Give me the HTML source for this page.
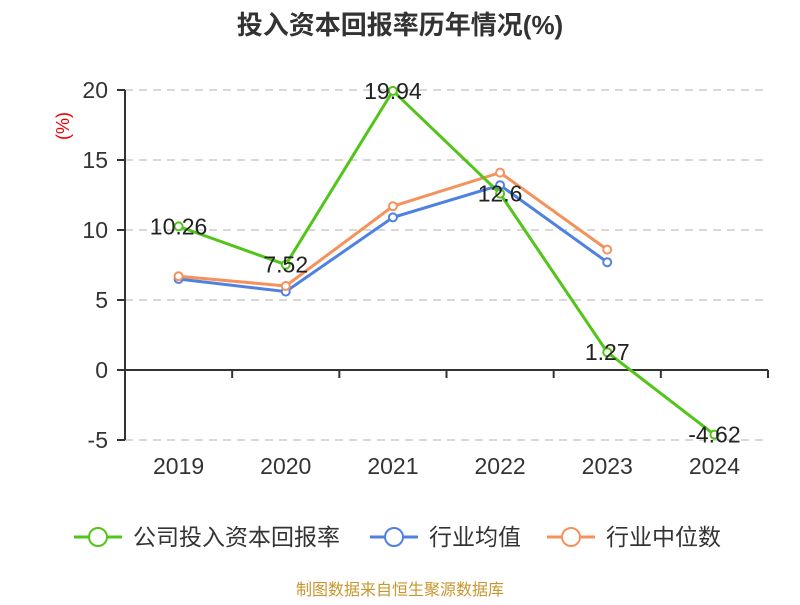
<!DOCTYPE html>
<html><head><meta charset="utf-8"><style>
body{margin:0;background:#fff;width:800px;height:600px;overflow:hidden}
svg text{font-family:"Liberation Sans","Noto Sans CJK SC",sans-serif}
</style></head><body>
<svg id="chart" width="800" height="600" xmlns="http://www.w3.org/2000/svg">
<text x="400" y="34" text-anchor="middle" font-size="26" font-weight="bold" fill="#333">投入资本回报率历年情况(%)</text>
<text transform="translate(69,126) rotate(-90)" text-anchor="middle" font-size="18" fill="#e00">(%)</text>
<g id="grid"></g><g id="axes"></g><g id="series"></g><g id="labels"></g>
<g font-size="23" fill="#333">
<g><line x1="74" y1="537" x2="122" y2="537" stroke="#52c41a" stroke-width="3"/><circle cx="98" cy="537" r="9" fill="#fff" stroke="#52c41a" stroke-width="2"/><text x="133" y="545">公司投入资本回报率</text></g>
<g><line x1="370" y1="537" x2="418" y2="537" stroke="#4f81e0" stroke-width="3"/><circle cx="394" cy="537" r="9" fill="#fff" stroke="#4f81e0" stroke-width="2"/><text x="429" y="545">行业均值</text></g>
<g><line x1="547" y1="537" x2="595" y2="537" stroke="#f5915a" stroke-width="3"/><circle cx="571" cy="537" r="9" fill="#fff" stroke="#f5915a" stroke-width="2"/><text x="606" y="545">行业中位数</text></g>
</g>
<text x="400" y="595" text-anchor="middle" font-size="16" fill="#c8962e">制图数据来自恒生聚源数据库</text>
</svg>
<script>
const categories=["2019","2020","2021","2022","2023","2024"];
const company=[10.26,7.52,19.94,12.6,1.27,-4.62];
const industryAvg=[6.5,5.6,10.9,13.2,7.7];
const industryMedian=[6.7,6.0,11.7,14.1,8.6];
const yTicks=[-5,0,5,10,15,20];
const NS="http://www.w3.org/2000/svg";
const x0=125,x1=768,bw=(x1-x0)/categories.length;
const xs=i=>x0+bw*(i+0.5);
const ys=v=>370-v*14;
function mk(tag,attrs,parent){const e=document.createElementNS(NS,tag);for(const k in attrs)e.setAttribute(k,attrs[k]);document.getElementById(parent).appendChild(e);return e;}
yTicks.forEach(t=>{
  if(t!==0){const g=mk('line',{x1:x0,x2:x1,y1:ys(t),y2:ys(t),stroke:'#ccc','stroke-dasharray':'8,6','stroke-width':1.5},'grid');
  
  }
  const tk=mk('line',{x1:117,x2:x0,y1:ys(t),y2:ys(t),stroke:'#333','stroke-width':2},'axes');
  
  
  const tl=mk('text',{x:108,y:ys(t)+8,'text-anchor':'end','font-size':23,fill:'#333'},'axes');
  tl.textContent=t;
  
  
});
const ya=mk('line',{x1:x0,x2:x0,y1:ys(20),y2:ys(-5),stroke:'#333','stroke-width':2},'axes');


const xa=mk('line',{x1:x0,x2:x1,y1:ys(0),y2:ys(0),stroke:'#333','stroke-width':2},'axes');


for(let i=0;i<=categories.length;i++){
  const t=mk('line',{x1:x0+bw*i,x2:x0+bw*i,y1:ys(0),y2:ys(0)+8,stroke:'#333','stroke-width':2},'axes');
  
  
}
categories.forEach((c,i)=>{
  const t=mk('text',{x:xs(i),y:474,'text-anchor':'middle','font-size':23,fill:'#333'},'axes');
  t.textContent=c;
  
  
});
function series(vals,color,name){
  const p=mk('polyline',{points:vals.map((v,i)=>xs(i)+','+ys(v)).join(' '),fill:'none',stroke:color,'stroke-width':3},'series');
  
  
  vals.forEach((v,i)=>{
    const c=mk('circle',{cx:xs(i),cy:ys(v),r:4,fill:'#fff',stroke:color,'stroke-width':2},'series');
    
    
  });
}
series(industryAvg,'#4f81e0','industry-average');
series(industryMedian,'#f5915a','industry-median');
series(company,'#52c41a','company');
company.forEach((v,i)=>{
  const t=mk('text',{x:xs(i),y:ys(v)+8,'text-anchor':'middle','font-size':23,fill:'#222'},'labels');
  t.textContent=v;
  
  
});
</script>
</body></html>
